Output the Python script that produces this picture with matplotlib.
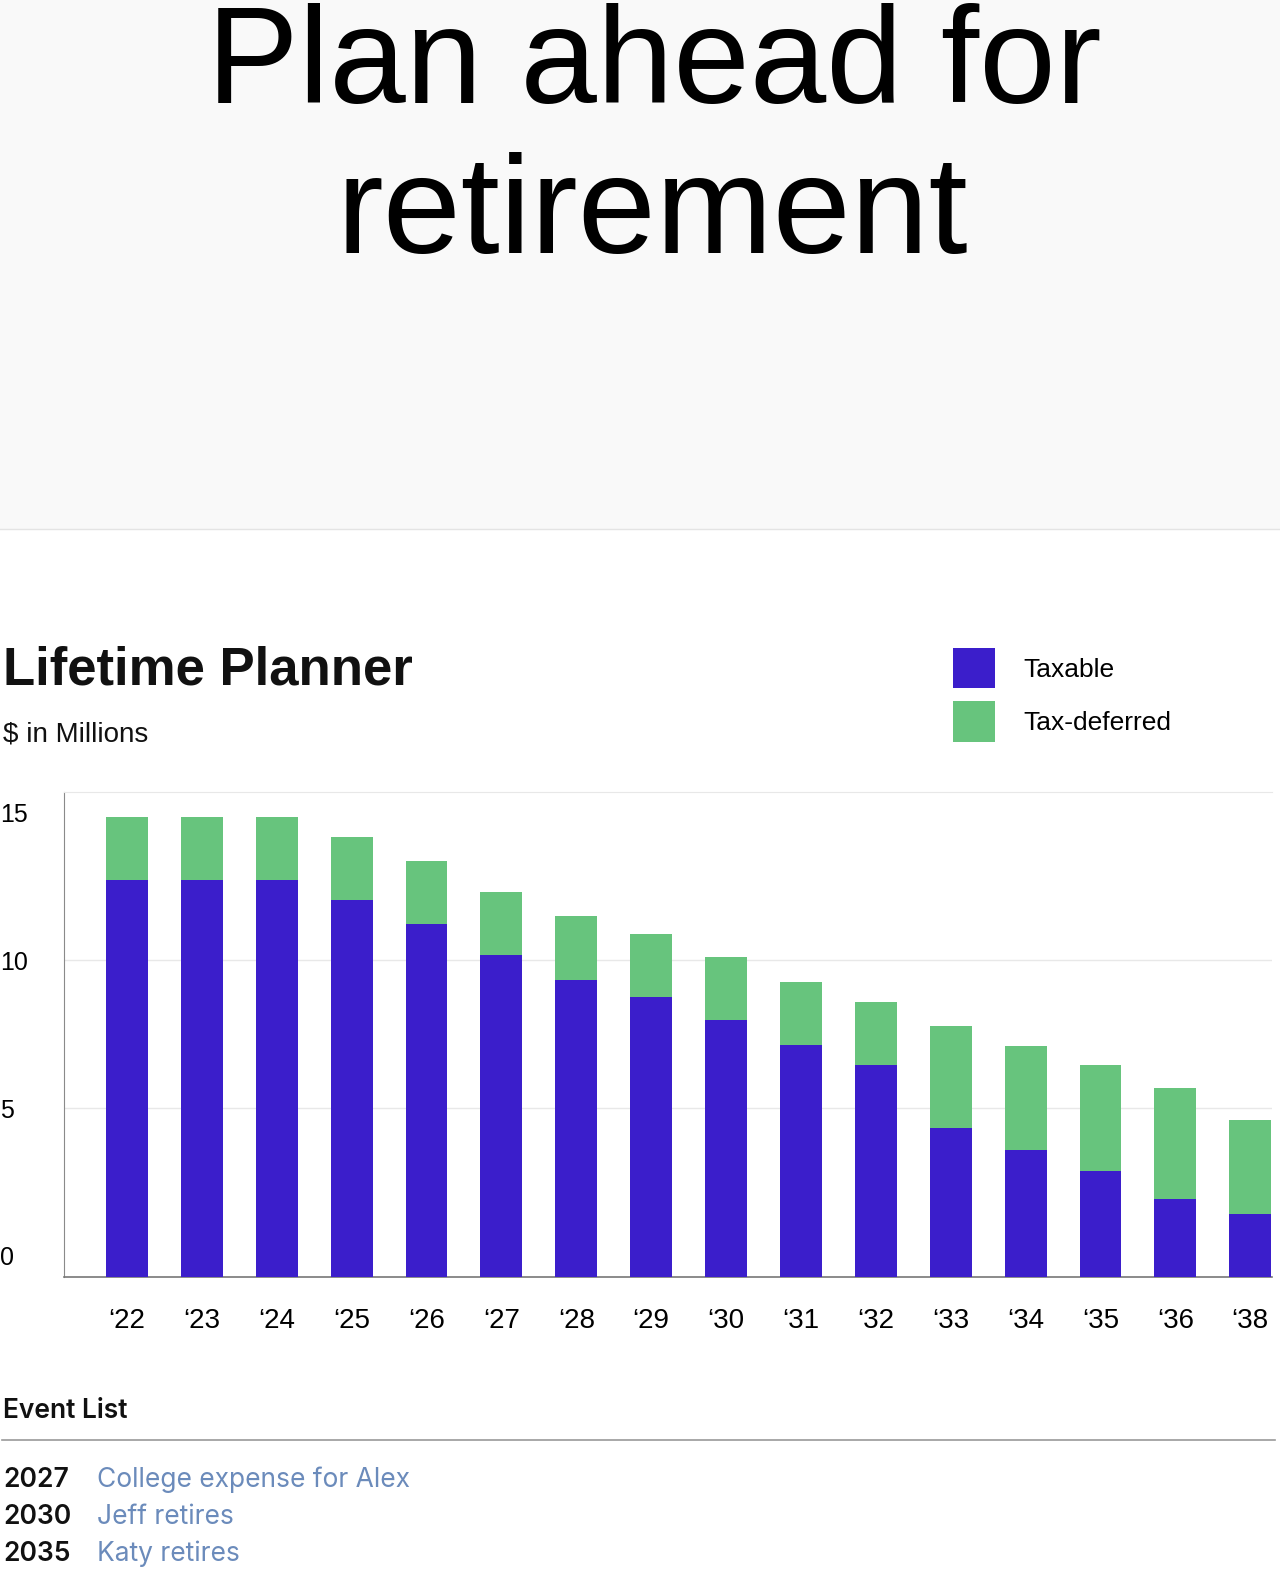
import matplotlib
matplotlib.use("Agg")
import matplotlib.pyplot as plt
from matplotlib.patches import Rectangle
from matplotlib.lines import Line2D
import numpy as np

# data ($ in millions)
years = ["\u201822", "\u201823", "\u201824", "\u201825", "\u201826", "\u201827", "\u201828", "\u201829",
         "\u201830", "\u201831", "\u201832", "\u201833", "\u201834", "\u201835", "\u201836", "\u201838"]
taxable = [12.7, 12.7, 12.7, 12.03, 11.22, 10.17, 9.32, 8.75, 7.97, 7.13, 6.45, 4.33, 3.58, 2.87, 1.93, 1.42]
total = [14.83, 14.83, 14.83, 14.16, 13.34, 12.3, 11.49, 10.88, 10.1, 9.26, 8.58, 7.78, 7.1, 6.46, 5.69, 4.6]
tax_deferred = [t - a for t, a in zip(total, taxable)]

event_years = ["2027", "2030", "2035"]
event_names = ["College expense for Alex", "Jeff retires", "Katy retires"]

BLUE = "#3b1ecb"
GREEN = "#67c47d"
SANS = ["Liberation Sans", "DejaVu Sans"]
GEO = ["Inter", "Lato", "DejaVu Sans"]

plt.rcParams["font.family"] = SANS

W, H = 1280, 1576
fig = plt.figure(figsize=(W / 100, H / 100), dpi=100)
fig.patch.set_facecolor("white")

# grey header band
fig.patches.append(Rectangle((0, 1 - 529 / H), 1, 529 / H, transform=fig.transFigure,
                             facecolor="#f9f9f9", edgecolor="none", zorder=0))
fig.add_artist(Line2D([0, 1], [1 - 529 / H] * 2, transform=fig.transFigure, color="#e4e4e4", lw=1))

fig.text(0.511, 1 - 103 / H, "Plan ahead for", ha="center", va="baseline", fontsize=99, color="black")
fig.text(0.510, 1 - 253 / H, "retirement", ha="center", va="baseline", fontsize=101, color="black")

fig.text(3 / W, 1 - 685 / H, "Lifetime Planner", ha="left", va="baseline", fontsize=38,
         fontweight="bold", color="#111111")
fig.text(3 / W, 1 - 742 / H, "$ in Millions", ha="left", va="baseline", fontsize=20, color="#111111")

# chart
ax = fig.add_axes([64 / W, 1 - 1277 / H, 1208 / W, 485 / H])
x = np.arange(len(years))
floor = -0.71
b1 = ax.bar(x, np.array(taxable) - floor, bottom=floor, width=0.56, color=BLUE, label="Taxable", zorder=3)
b2 = ax.bar(x, tax_deferred, bottom=taxable, width=0.56, color=GREEN, label="Tax-deferred", zorder=3)

ax.set_xlim(-0.84, 15.29)
ax.set_ylim(floor, 15.68)
ax.set_yticks([0, 5, 10, 15])
ax.set_yticklabels(["0", "5", "10", "15"], fontsize=18)
for lab in ax.get_yticklabels():
    lab.set_horizontalalignment("left")
ax.tick_params(axis="y", length=0, pad=46)
ax.set_xticks(x)
ax.set_xticklabels(years, fontsize=20)
ax.tick_params(axis="x", length=0, pad=22)
for yv in [5, 10]:
    ax.axhline(yv, color="#e8e8e8", lw=1, zorder=1)
ax.spines["right"].set_visible(False)
ax.spines["top"].set_color("#e8e8e8")
ax.spines["left"].set_color("#8a8a8a")
ax.spines["bottom"].set_color("#777777")
ax.spines["bottom"].set_linewidth(1.2)

fig.legend(handles=[b1, b2], labels=["Taxable", "Tax-deferred"], loc="upper left",
           bbox_to_anchor=(953 / W, 1 - 648 / H), frameon=False, fontsize=19,
           handlelength=1.59, handleheight=1.98, labelspacing=0.49, handletextpad=1.06,
           borderpad=0, borderaxespad=0)

# event list
fig.text(3 / W, 1 - 1418 / H, "Event List", ha="left", va="baseline", fontsize=19,
         family=GEO, fontweight="semibold", color="#111111")
fig.add_artist(Line2D([2 / W, 1275 / W], [1 - 1440 / H] * 2, transform=fig.transFigure, color="#9a9a9a", lw=1.2))
for i, (yr, name) in enumerate(zip(event_years, event_names)):
    yb = 1 - (1487 + 37 * i) / H
    fig.text(3 / W, yb, yr, ha="left", va="baseline", fontsize=19, family=GEO,
             fontweight="semibold", color="#111111")
    fig.text(97 / W, yb, name, ha="left", va="baseline", fontsize=19, family=GEO, color="#6b8bbb")

fig.savefig("out.png", dpi=100)
